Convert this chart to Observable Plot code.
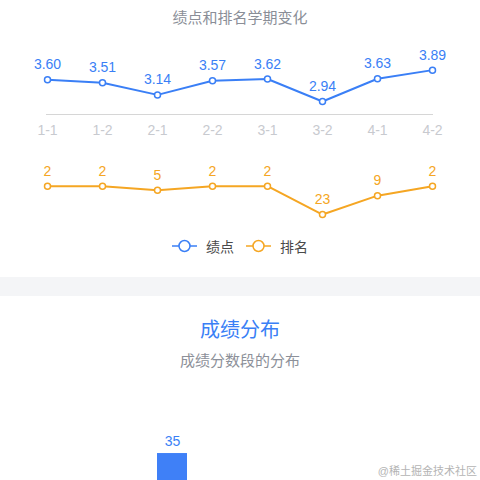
<!DOCTYPE html>
<html>
<head>
<meta charset="utf-8">
<script src="https://cdn.jsdelivr.net/npm/d3@7"></script>
<script src="https://cdn.jsdelivr.net/npm/@observablehq/plot@0.6"></script>
<style>
  html, body { margin: 0; padding: 0; background: #fff; }
  body { width: 480px; height: 480px; overflow: hidden; position: relative;
         font-family: "Liberation Sans", "Noto Sans CJK SC", sans-serif; }
  .abs { position: absolute; left: 0; width: 480px; }
  .center { text-align: center; }
  #legend { display: flex; justify-content: center; align-items: center; gap: 12px; }
  .item { display: flex; align-items: center; gap: 9px; font-size: 14px; color: #4a4a4a; }
</style>
</head>
<body>
<div class="abs center" style="top:8px;height:20px;line-height:20px;font-size:15px;color:#8a8e97;">绩点和排名学期变化</div>
<div id="gpa" class="abs" style="top:40px;"></div>
<div id="rank" class="abs" style="top:150px;"></div>
<div id="legend" class="abs" style="top:236px;height:20px;"></div>
<div class="abs" style="top:277px;height:19px;background:#f4f5f7;"></div>
<div class="abs center" style="top:318px;height:24px;line-height:24px;font-size:20px;color:#3a7ff6;">成绩分布</div>
<div class="abs center" style="top:350px;height:22px;line-height:22px;font-size:15px;color:#8c9099;">成绩分数段的分布</div>
<div id="dist" class="abs" style="top:380px;"></div>
<div style="position:absolute;right:3px;top:463px;height:16px;line-height:16px;font-size:11px;color:#b4b4b4;">@稀土掘金技术社区</div>
<script>
const terms = ["1-1", "1-2", "2-1", "2-2", "3-1", "3-2", "4-1", "4-2"];
const gpa = [3.60, 3.51, 3.14, 3.57, 3.62, 2.94, 3.63, 3.89];
const ranks = [2, 2, 5, 2, 2, 23, 9, 2];
const seriesNames = ["绩点", "排名"];
const distCategories = ["分数段"];
const distCounts = [35];

const BLUE = "#3a7ff6";
const ORANGE = "#f5a623";
const FONT = "'Liberation Sans', 'Noto Sans CJK SC', sans-serif";

const rows = terms.map((t, i) => ({term: t, gpa: gpa[i], rank: ranks[i]}));
const gpaDomain = [2.546, 4.0];

const gpaPlot = Plot.plot({
  width: 480, height: 110,
  marginLeft: 46, marginRight: 47, marginTop: 26, marginBottom: 36,
  style: {fontFamily: FONT, fontSize: "14px", overflow: "visible", background: "transparent"},
  x: {type: "point", domain: terms, padding: 0, label: null},
  y: {domain: gpaDomain, axis: null},
  marks: [
    Plot.ruleY([gpaDomain[0]], {stroke: "#d6d6d6", strokeWidth: 1}),
    Plot.axisX({tickSize: 0, tickPadding: 11, fill: "#c8cacf", fontSize: 14, label: null}),
    Plot.line(rows, {x: "term", y: "gpa", stroke: BLUE, strokeWidth: 2}),
    Plot.dot(rows, {x: "term", y: "gpa", r: 3, fill: "white", stroke: BLUE, strokeWidth: 1.5}),
    Plot.text(rows, {x: "term", y: "gpa", text: d => d.gpa.toFixed(2), dy: -15, fill: BLUE, fontSize: 14})
  ]
});
document.getElementById("gpa").appendChild(gpaPlot);

const rankPlot = Plot.plot({
  width: 480, height: 80,
  marginLeft: 46, marginRight: 47, marginTop: 33, marginBottom: 13.25,
  style: {fontFamily: FONT, fontSize: "14px", overflow: "visible", background: "transparent"},
  x: {type: "point", domain: terms, padding: 0, axis: null},
  y: {domain: [0, 25], reverse: true, axis: null},
  marks: [
    Plot.line(rows, {x: "term", y: "rank", stroke: ORANGE, strokeWidth: 2}),
    Plot.dot(rows, {x: "term", y: "rank", r: 3, fill: "white", stroke: ORANGE, strokeWidth: 1.5}),
    Plot.text(rows, {x: "term", y: "rank", text: d => String(d.rank), dy: -15, fill: ORANGE, fontSize: 14})
  ]
});
document.getElementById("rank").appendChild(rankPlot);

// legend
const legend = document.getElementById("legend");
[[seriesNames[0], BLUE], [seriesNames[1], ORANGE]].forEach(([name, color]) => {
  const item = document.createElement("div");
  item.className = "item";
  item.innerHTML = `<svg width="25" height="14"><line x1="0" y1="7" x2="25" y2="7" stroke="${color}" stroke-width="1.5"/><circle cx="12.5" cy="7" r="5.5" fill="white" stroke="${color}" stroke-width="1.5"/></svg><span>${name}</span>`;
  legend.appendChild(item);
});

const distRows = distCategories.map((c, i) => ({cat: c, count: distCounts[i]}));
const distPlot = Plot.plot({
  width: 480, height: 140,
  marginLeft: 157, marginRight: 293, marginTop: 64.9, marginBottom: 10,
  style: {fontFamily: FONT, fontSize: "14px", overflow: "visible", background: "transparent"},
  x: {type: "band", domain: distCategories, padding: 0, axis: null},
  y: {domain: [0, 40], axis: null},
  marks: [
    Plot.barY(distRows, {x: "cat", y: "count", fill: "#3f80f7"}),
    Plot.text(distRows, {x: "cat", y: "count", text: d => String(d.count), dy: -12, fill: BLUE, fontSize: 14})
  ]
});
document.getElementById("dist").appendChild(distPlot);
</script>
</body>
</html>
